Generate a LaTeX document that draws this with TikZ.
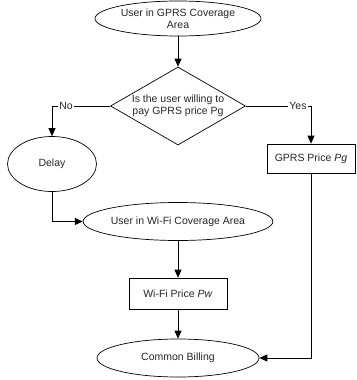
\documentclass[tikz,border=0pt]{standalone}
\usepackage{fontspec}
\setmainfont{Liberation Sans}
\usetikzlibrary{shapes.geometric,arrows.meta}
\begin{document}
\begin{tikzpicture}[x=1pt,y=-1pt,
  every node/.style={font=\fontsize{10.5}{12.5}\selectfont, text=black!85},
  ell/.style={draw, ellipse, inner sep=0pt, line width=0.7pt},
  box/.style={draw, rectangle, inner sep=0pt, line width=0.7pt},
  dia/.style={draw, diamond, inner sep=0pt, line width=0.7pt},
  conn/.style={line width=0.9pt, -{Triangle[length=8pt,width=7pt]}},
  lbl/.style={fill=white, inner sep=1pt}]
\useasboundingbox (0,0) rectangle (356,380);
\node[ell, minimum width=166pt, minimum height=35pt, align=center] (gprsarea) at (178,18.5) {User in GPRS Coverage\\Area};
\node[dia, minimum width=135pt, minimum height=78pt] (dec) at (178,106) {};
\node[align=center] (dectext) at (178,106) {Is the user willing to\\pay GPRS price Pg};
\node[ell, minimum width=89pt, minimum height=55pt] (delay) at (52,164) {Delay};
\node[box, minimum width=88pt, minimum height=29pt] (gprsprice) at (311,158.5) {GPRS Price \textit{Pg}};
\node[ell, minimum width=173pt, minimum height=38pt] (wifiarea) at (178,221.5) {User in Wi-Fi Coverage Area};
\node[box, minimum width=98pt, minimum height=31pt] (wifiprice) at (178,293.5) {Wi-Fi Price \textit{Pw}};
\node[ell, minimum width=162pt, minimum height=38pt] (billing) at (178,358) {Common Billing};
\coordinate (nocorner) at (52,106);
\coordinate (yescorner) at (311,106);
\draw[conn] (gprsarea) -- (dec);
\draw[conn] (dec.west) -- (nocorner) -- (delay.north);
\draw[conn] (dec.east) -- (yescorner) -- (gprsprice.north);
\node[lbl] (nolbl) at (66,106) {No};
\node[lbl] (yeslbl) at (298,106) {Yes};
\draw[conn] (delay.south) |- (wifiarea.west);
\draw[conn] (wifiarea) -- (wifiprice);
\draw[conn] (wifiprice) -- (billing);
\draw[conn] (gprsprice.south) |- (billing.east);
\end{tikzpicture}
\end{document}
